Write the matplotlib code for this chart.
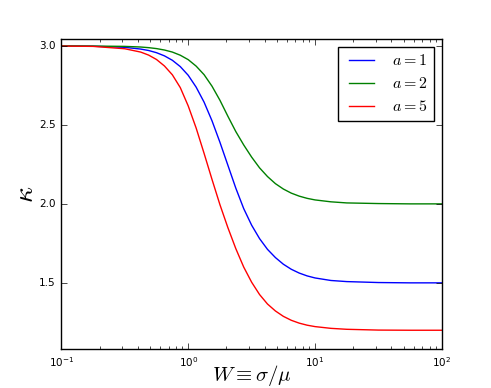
import matplotlib
matplotlib.use("Agg")
import matplotlib.pyplot as plt

plt.style.use("classic")

# log10(W) sample positions and kappa values
log_w = [-1.0, -0.75, -0.5, -0.375, -0.3125, -0.25, -0.1875, -0.125, -0.0625,
         0.0, 0.0625, 0.125, 0.1875, 0.25, 0.3125, 0.375, 0.4375, 0.5, 0.5625,
         0.625, 0.6875, 0.75, 0.8125, 0.875, 0.9375, 1.0, 1.125, 1.25, 1.5,
         1.75, 2.0]
kappa_a1 = [3.000, 2.998, 2.991, 2.980, 2.971, 2.957, 2.937, 2.909, 2.869,
            2.814, 2.739, 2.644, 2.526, 2.390, 2.245, 2.100, 1.970, 1.865, 1.780,
            1.712, 1.660, 1.618, 1.586, 1.562, 1.544, 1.531, 1.515, 1.508, 1.502,
            1.500, 1.500]
kappa_a2 = [3.000, 2.999, 2.997, 2.993, 2.989, 2.983, 2.974, 2.961, 2.941,
            2.913, 2.872, 2.818, 2.745, 2.656, 2.555, 2.458, 2.373, 2.296, 2.228,
            2.173, 2.128, 2.094, 2.068, 2.049, 2.035, 2.025, 2.013, 2.006, 2.002,
            2.000, 2.000]
kappa_a5 = [2.999, 2.997, 2.982, 2.961, 2.942, 2.914, 2.873, 2.817, 2.736,
            2.620, 2.480, 2.320, 2.155, 1.995, 1.850, 1.717, 1.600, 1.504, 1.426,
            1.366, 1.322, 1.288, 1.263, 1.245, 1.232, 1.223, 1.212, 1.206, 1.201,
            1.200, 1.200]
labels = [r"$a=1$", r"$a=2$", r"$a=5$"]
colors = ["b", "g", "r"]

W = [10 ** v for v in log_w]

plt.rcParams["font.size"] = 9.2
fig = plt.figure(figsize=(4.91, 3.88), dpi=100)
ax = fig.add_subplot(111)
for ys, lab, c in zip([kappa_a1, kappa_a2, kappa_a5], labels, colors):
    ax.plot(W, ys, color=c, lw=1.0, label=lab)
ax.set_xscale("log")
ax.set_xlim(0.1, 100)
ax.set_ylim(1.08, 3.045)
ax.set_yticks([1.5, 2.0, 2.5, 3.0])
ax.tick_params(labelsize=7.5)
ax.set_xlabel(r"$W \equiv \sigma/\mu$", fontsize=15)
ax.xaxis.set_label_coords(0.5, -0.044)
ax.set_ylabel(r"$\kappa$", fontsize=20)
ax.yaxis.set_label_coords(-0.058, 0.5)
leg = ax.legend(loc="upper right", fontsize=11.5, handlelength=2.2)
fig.savefig("out.png", dpi=100)
